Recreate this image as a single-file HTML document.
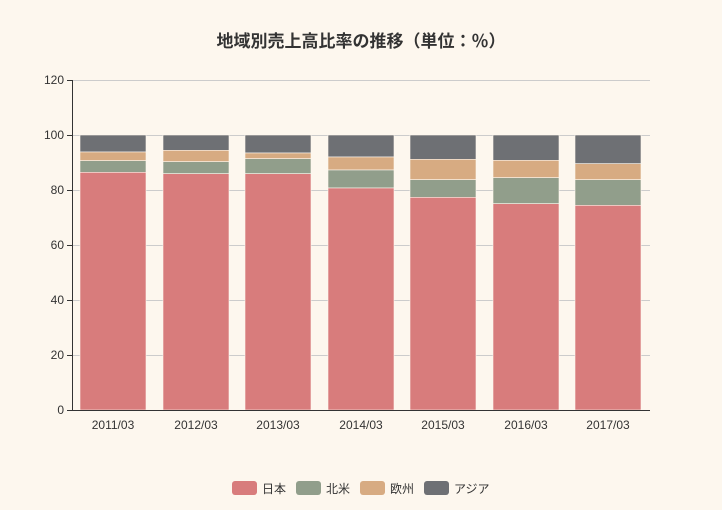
<!DOCTYPE html>
<html><head><meta charset="utf-8"><style>html,body{margin:0;background:#fdf7ee;overflow:hidden}svg{display:block}</style></head><body>
<svg width="722" height="510" xmlns="http://www.w3.org/2000/svg" font-family="Liberation Sans, Noto Sans CJK JP, sans-serif">
<rect width="722" height="510" fill="#fdf7ee"/>
<text x="361" y="47" text-anchor="middle" font-size="17" font-weight="bold" fill="#333">地域別売上高比率の推移（単位：％）</text>
<g stroke="#ccc" stroke-width="1">
<line x1="72" y1="80.5" x2="650" y2="80.5"/><line x1="72" y1="135.5" x2="650" y2="135.5"/><line x1="72" y1="190.5" x2="650" y2="190.5"/><line x1="72" y1="245.5" x2="650" y2="245.5"/><line x1="72" y1="300.5" x2="650" y2="300.5"/><line x1="72" y1="355.5" x2="650" y2="355.5"/>
</g>
<g font-size="12" fill="#333" text-anchor="end">
<text x="64" y="84">120</text><text x="64" y="139">100</text><text x="64" y="194">80</text><text x="64" y="249">60</text><text x="64" y="304">40</text><text x="64" y="359">20</text><text x="64" y="414">0</text>
</g>
<g stroke="#fdf7ee" stroke-width="0.6">
<rect x="80" y="135" width="66" height="17" fill="#6e7074"/><rect x="80" y="152" width="66" height="8.7" fill="#d7ab82"/><rect x="80" y="160.7" width="66" height="11.6" fill="#919e8b"/><rect x="80" y="172.3" width="66" height="237.7" fill="#d87c7c"/>
<rect x="163" y="135" width="66" height="15.3" fill="#6e7074"/><rect x="163" y="150.3" width="66" height="11.4" fill="#d7ab82"/><rect x="163" y="161.7" width="66" height="12" fill="#919e8b"/><rect x="163" y="173.7" width="66" height="236.3" fill="#d87c7c"/>
<rect x="245" y="135" width="66" height="18" fill="#6e7074"/><rect x="245" y="153" width="66" height="5.7" fill="#d7ab82"/><rect x="245" y="158.7" width="66" height="15" fill="#919e8b"/><rect x="245" y="173.7" width="66" height="236.3" fill="#d87c7c"/>
<rect x="328" y="135" width="66" height="22" fill="#6e7074"/><rect x="328" y="157" width="66" height="13" fill="#d7ab82"/><rect x="328" y="170" width="66" height="18" fill="#919e8b"/><rect x="328" y="188" width="66" height="222" fill="#d87c7c"/>
<rect x="410" y="135" width="66" height="24.3" fill="#6e7074"/><rect x="410" y="159.3" width="66" height="20.4" fill="#d7ab82"/><rect x="410" y="179.7" width="66" height="17.6" fill="#919e8b"/><rect x="410" y="197.3" width="66" height="212.7" fill="#d87c7c"/>
<rect x="493" y="135" width="66" height="25.3" fill="#6e7074"/><rect x="493" y="160.3" width="66" height="17.4" fill="#d7ab82"/><rect x="493" y="177.7" width="66" height="26" fill="#919e8b"/><rect x="493" y="203.7" width="66" height="206.3" fill="#d87c7c"/>
<rect x="575" y="135" width="66" height="28.7" fill="#6e7074"/><rect x="575" y="163.7" width="66" height="16" fill="#d7ab82"/><rect x="575" y="179.7" width="66" height="25.6" fill="#919e8b"/><rect x="575" y="205.3" width="66" height="204.7" fill="#d87c7c"/>
</g>
<line x1="72.5" y1="80" x2="72.5" y2="410" stroke="#333"/>
<line x1="72" y1="410.5" x2="650" y2="410.5" stroke="#333"/>
<g stroke="#333"><line x1="67" y1="80.5" x2="72" y2="80.5"/><line x1="67" y1="135.5" x2="72" y2="135.5"/><line x1="67" y1="190.5" x2="72" y2="190.5"/><line x1="67" y1="245.5" x2="72" y2="245.5"/><line x1="67" y1="300.5" x2="72" y2="300.5"/><line x1="67" y1="355.5" x2="72" y2="355.5"/><line x1="67" y1="410.5" x2="72" y2="410.5"/></g>
<g font-size="12" fill="#333" text-anchor="middle">
<text x="113" y="429">2011/03</text><text x="196" y="429">2012/03</text><text x="278" y="429">2013/03</text><text x="361" y="429">2014/03</text><text x="443" y="429">2015/03</text><text x="526" y="429">2016/03</text><text x="608" y="429">2017/03</text>
</g>
<g font-size="12" fill="#333">
<rect x="232" y="481" width="25" height="14" rx="3" fill="#d87c7c"/><text x="262" y="493">日本</text>
<rect x="296" y="481" width="25" height="14" rx="3" fill="#919e8b"/><text x="326" y="493">北米</text>
<rect x="360" y="481" width="25" height="14" rx="3" fill="#d7ab82"/><text x="390" y="493">欧州</text>
<rect x="424" y="481" width="25" height="14" rx="3" fill="#6e7074"/><text x="454" y="493">アジア</text>
</g>
</svg>
</body></html>
